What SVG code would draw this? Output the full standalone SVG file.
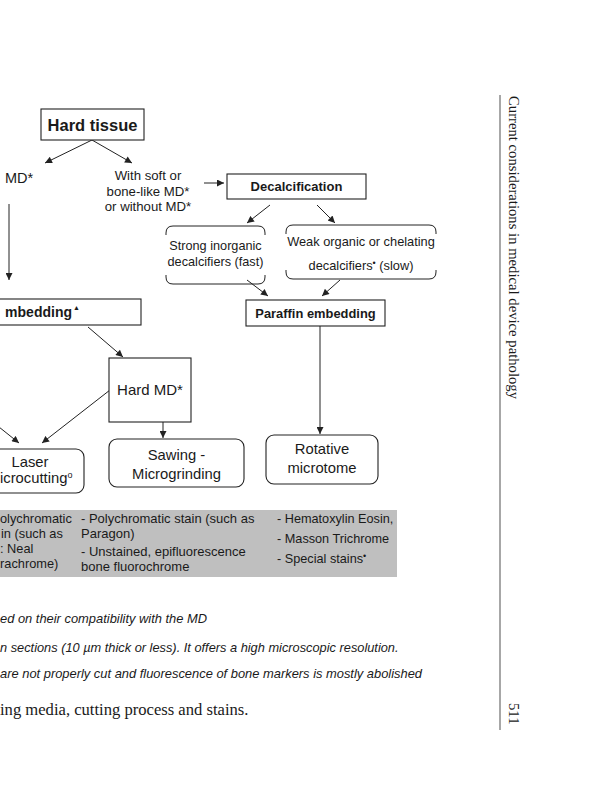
<svg xmlns="http://www.w3.org/2000/svg" width="599" height="800" viewBox="0 0 599 800">
<style>
.box{fill:#fff;stroke:#222;stroke-width:1.1}
.br{fill:none;stroke:#222;stroke-width:1}
.ln{fill:none;stroke:#222;stroke-width:1;marker-end:url(#ah)}
.t{font-family:"Liberation Sans",Arial,sans-serif;fill:#1a1a1a}
.b{font-weight:bold}
.i{font-style:italic}
.s{font-family:"Liberation Serif","Times New Roman",serif;fill:#1a1a1a}
</style>
<defs>
<marker id="ah" viewBox="0 0 10 10" refX="10" refY="5" markerWidth="9" markerHeight="7" markerUnits="userSpaceOnUse" orient="auto">
<path d="M0,0 L10,5 L0,10 z" fill="#222"/>
</marker>
</defs>
<rect width="599" height="800" fill="#fff"/>

<g id="connectors">
<line class="ln" x1="92" y1="140" x2="45" y2="163"/>
<line class="ln" x1="92" y1="140" x2="132" y2="163"/>
<line class="ln" x1="204" y1="183" x2="224" y2="183"/>
<line class="ln" x1="9" y1="204" x2="9" y2="280"/>
<line class="ln" x1="270" y1="205" x2="247" y2="223"/>
<line class="ln" x1="317" y1="205" x2="335" y2="223"/>
<line class="ln" x1="247" y1="280" x2="268" y2="296"/>
<line class="ln" x1="340" y1="280" x2="322" y2="296"/>
<line class="ln" x1="320" y1="326" x2="320" y2="434"/>
<line class="ln" x1="88" y1="327" x2="123" y2="357"/>
<line class="ln" x1="110" y1="390" x2="42" y2="443"/>
<line class="ln" x1="-6" y1="423" x2="19" y2="443"/>
<line class="ln" x1="163" y1="422" x2="163" y2="438"/>
</g>

<g id="hard-tissue">
<rect class="box" x="41" y="109" width="103" height="31"/>
<text class="t b" x="92.5" y="131" font-size="16.5" text-anchor="middle">Hard tissue</text>
</g>

<g id="md-left">
<text class="t" x="5" y="183" font-size="14.5">MD*</text>
</g>

<g id="soft-md">
<text class="t" font-size="13.2" text-anchor="middle"><tspan x="148" y="180">With soft or</tspan><tspan x="148" y="195.5">bone-like MD*</tspan><tspan x="148" y="211">or without MD*</tspan></text>
</g>

<g id="decalcification">
<rect class="box" x="227" y="174" width="139" height="25"/>
<text class="t b" x="296.5" y="191" font-size="13" text-anchor="middle">Decalcification</text>
</g>

<g id="strong">
<path class="br" d="M166,235 V233 Q166,226 173,226 H258 Q265,226 265,233 V235"/>
<path class="br" d="M166,275 V277 Q166,284 173,284 H258 Q265,284 265,277 V275"/>
<text class="t" font-size="12.7" text-anchor="middle"><tspan x="215.5" y="250">Strong inorganic</tspan><tspan x="215.5" y="265.5">decalcifiers (fast)</tspan></text>
</g>

<g id="weak">
<path class="br" d="M286,234 V232 Q286,225 293,225 H429 Q436,225 436,232 V234"/>
<path class="br" d="M286,270 V272 Q286,279 293,279 H429 Q436,279 436,272 V270"/>
<text class="t" font-size="12.8" text-anchor="middle"><tspan x="361" y="246">Weak organic or chelating</tspan><tspan x="361" y="270">decalcifiers<tspan font-size="9" dy="-4">•</tspan><tspan dy="4"> (slow)</tspan></tspan></text>
</g>

<g id="paraffin">
<rect class="box" x="246" y="300" width="139" height="26"/>
<text class="t b" x="315.5" y="317.5" font-size="12.9" text-anchor="middle">Paraffin embedding</text>
</g>

<g id="rotative">
<rect class="box" x="266" y="435" width="112" height="49" rx="8"/>
<text class="t" font-size="14.8" text-anchor="middle"><tspan x="322" y="454">Rotative</tspan><tspan x="322" y="473">microtome</tspan></text>
</g>

<g id="embedding-left">
<rect class="box" x="-5" y="299" width="146" height="26"/>
<text class="t b" x="72" y="317" font-size="14" text-anchor="end">mbedding</text>
<text class="t" x="73" y="310" font-size="7">▲</text>
</g>

<g id="hard-md">
<rect class="box" x="109" y="358" width="82" height="64"/>
<text class="t" x="150" y="395" font-size="15" text-anchor="middle">Hard MD*</text>
</g>

<g id="sawing">
<rect class="box" x="109" y="439" width="135" height="48" rx="8"/>
<text class="t" font-size="14.8" text-anchor="middle"><tspan x="176.5" y="460">Sawing -</tspan><tspan x="176.5" y="478.5">Microgrinding</tspan></text>
</g>

<g id="laser">
<rect class="box" x="-10" y="449" width="94" height="44" rx="8"/>
<text class="t" x="30" y="467" font-size="14.8" text-anchor="middle">Laser</text>
<text class="t" x="0" y="482.5" font-size="14.8">icrocutting<tspan font-size="9" dy="-5">o</tspan></text>
</g>

<g id="stains-table">
<rect x="0" y="510" width="397" height="67" fill="#bfbfbf"/>
<text class="t" font-size="12.8">
<tspan x="0" y="523">olychromatic</tspan>
<tspan x="1" y="538">in (such as</tspan>
<tspan x="0" y="552.5">: Neal</tspan>
<tspan x="0" y="568">rachrome)</tspan>
</text>
<text class="t" font-size="13">
<tspan x="81" y="523">- Polychromatic stain (such as</tspan>
<tspan x="81" y="538">Paragon)</tspan>
<tspan x="81" y="556">- Unstained, epifluorescence</tspan>
<tspan x="81" y="571">bone fluorochrome</tspan>
</text>
<text class="t" font-size="12.7">
<tspan x="277" y="523">- Hematoxylin Eosin,</tspan>
<tspan x="277" y="543">- Masson Trichrome</tspan>
<tspan x="277" y="562.5">- Special stains<tspan font-size="9" dy="-4">•</tspan></tspan>
</text>
</g>

<g id="footnotes">
<text class="t i" x="0" y="623" font-size="12.9">ed on their compatibility with the MD</text>
<text class="t i" x="0" y="652" font-size="12.8">n sections (10 µm thick or less). It offers a high microscopic resolution.</text>
<text class="t i" x="0" y="678" font-size="12.9">are not properly cut and fluorescence of bone markers is mostly abolished</text>
<text class="s" x="0" y="715" font-size="16.6">ing media, cutting process and stains.</text>
</g>

<g id="running-head">
<line x1="500" y1="95" x2="500" y2="730" stroke="#8a8a8a" stroke-width="1.5"/>
<text class="s" x="509" y="96" font-size="14.7" transform="rotate(90 509 96)">Current considerations in medical device pathology</text>
<text class="s" x="509" y="703" font-size="14.7" transform="rotate(90 509 703)">511</text>
</g>
</svg>
